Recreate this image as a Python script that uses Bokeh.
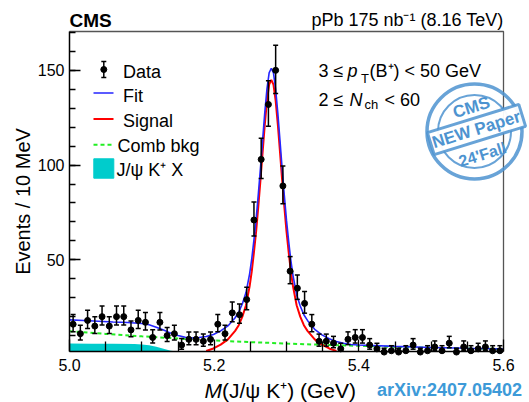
import numpy as np
from bokeh.plotting import figure
from bokeh.models import Label, FixedTicker, SingleIntervalTicker
from bokeh.embed import file_html
from bokeh.resources import INLINE

# ---------------- data ----------------
bin_low = 5.0
bin_width = 0.01
counts = [16, 11, 18, 15, 20, 15, 20, 20, 13, 18,
          17, 9, 17, 10, 11, 5, 8, 8, 7, 8,
          16, 11, 22, 21, 29, 71, 103, 132, 150, 89,
          44, 35, 27, 16, 7, 7, 6, 3, 8, 9,
          9, 5, 3, 1, 2, 1, 2, 5, 1, 2,
          4, 2, 6, 1, 4, 2, 3, 4, 2, 2]

fit_x = [5.000, 5.020, 5.040, 5.060, 5.080, 5.100, 5.110, 5.120, 5.130, 5.140, 5.150, 5.160,
         5.169, 5.179, 5.189, 5.199, 5.209, 5.219, 5.229, 5.234, 5.239, 5.244, 5.249, 5.252,
         5.255, 5.258, 5.261, 5.264, 5.267, 5.270, 5.273, 5.276, 5.279,
         5.282, 5.285, 5.288, 5.291, 5.294, 5.297, 5.300, 5.303, 5.306, 5.309, 5.314, 5.319,
         5.324, 5.329, 5.339, 5.349, 5.359, 5.369, 5.379, 5.389,
         5.400, 5.450, 5.500, 5.550, 5.600]
fit_y = [18.3, 18.0, 17.6, 17.2, 16.9, 16.4, 15.7, 14.4, 12.9, 11.3, 10.0, 9.1,
         8.7, 9.0, 9.5, 10.6, 12.5, 15.1, 19.4, 22.4, 26.8, 32.7, 42.6, 50.6,
         60.5, 71.5, 84.4, 98.4, 113.3, 127.8, 140.2, 148.7, 151.1,
         148.6, 140.0, 127.5, 112.9, 97.9, 83.9, 70.8, 59.8, 49.7, 41.7, 31.6, 25.6,
         21.0, 18.0, 13.3, 10.4, 8.3, 6.9, 6.0, 5.3,
         5.0, 4.3, 3.75, 3.3, 2.95]

sig_x = [5.169, 5.179, 5.189, 5.199, 5.209, 5.219, 5.229, 5.234, 5.239, 5.244, 5.249, 5.252,
         5.255, 5.258, 5.261, 5.264, 5.267, 5.270, 5.273, 5.276, 5.279,
         5.282, 5.285, 5.288, 5.291, 5.294, 5.297, 5.300, 5.303, 5.306, 5.309, 5.314, 5.319,
         5.324, 5.329, 5.339, 5.349, 5.359, 5.369, 5.379, 5.389]
sig_y = [0.6, 1.1, 1.9, 3.2, 5.2, 8.0, 12.5, 15.5, 20.0, 26.0, 36.0, 44.0,
         54.0, 65.0, 78.0, 92.0, 107.0, 121.5, 134.0, 142.5, 145.0,
         142.5, 134.0, 121.5, 107.0, 92.0, 78.0, 65.0, 54.0, 44.0, 36.0, 26.0, 20.0,
         15.5, 12.5, 8.0, 5.2, 3.2, 1.9, 1.1, 0.6]

comb_x = [5.00, 5.05, 5.10, 5.15, 5.20, 5.25, 5.30, 5.35, 5.40, 5.45, 5.50, 5.55, 5.60]
comb_y = [12.3, 10.9, 9.6, 8.45, 7.4, 6.55, 5.8, 5.15, 4.6, 4.05, 3.6, 3.23, 2.9]

jpsi_x = [5.00, 5.03, 5.06, 5.09, 5.10, 5.11, 5.12, 5.13, 5.14, 5.15, 5.16]
jpsi_y = [5.8, 5.75, 5.65, 5.5, 5.3, 4.9, 4.1, 3.1, 2.0, 1.0, 0.0]

x_major = [5.0, 5.2, 5.4, 5.6]
x_minor = [5.05, 5.10, 5.15, 5.25, 5.30, 5.35, 5.45, 5.50, 5.55]

# ---------------- geometry ----------------
XMIN, XMAX = 5.0, 5.6          # axis range
YMIN, YMAX = 1.6, 170.5
W, H = 529, 402
FL, FR, FT, FB = 69, 503, 31, 351   # pixel box of the axes
FONT = "Liberation Sans"
BASE_SHIFT = 4.5                      # baseline correction for labels

kx = (XMAX - XMIN) / (FR - FL)
ky = (YMAX - YMIN) / (FB - FT)

def X(px):
    return XMIN + (px - FL) * kx

def Y(py):
    return YMIN + (FB - py) * ky

# the canvas frame covers the whole picture; axes are pinned at the box edges
p = figure(width=W, height=H, x_range=(X(0), X(W)), y_range=(Y(H), Y(0)),
           output_backend="svg", toolbar_location=None, title_location=None,
           min_border=0, min_border_left=0, min_border_right=0,
           min_border_top=0, min_border_bottom=0)
p.xgrid.visible = False
p.ygrid.visible = False
p.background_fill_color = "white"
p.border_fill_color = "white"
p.outline_line_color = None

xa = p.xaxis[0]
xa.fixed_location = YMIN
xa.bounds = (XMIN, XMAX)
xa.ticker = FixedTicker(ticks=x_major, minor_ticks=x_minor)
xa.major_label_overrides = {5.0: "5.0", 5.2: "5.2", 5.4: "5.4", 5.6: "5.6"}
xa.major_tick_in = 12
xa.major_tick_out = 0
xa.minor_tick_in = 10
xa.minor_tick_out = 0
xa.major_label_standoff = 7
xa.major_label_text_font = FONT
xa.major_label_text_font_size = "16px"
xa.major_label_text_color = "black"
xa.axis_line_color = "black"
xa.axis_line_width = 1.5
xa.major_tick_line_width = 1.3
xa.minor_tick_line_width = 1.3

ya = p.yaxis[0]
ya.fixed_location = XMIN
ya.bounds = (YMIN, YMAX)
ya.ticker = SingleIntervalTicker(interval=50, num_minor_ticks=5)
ya.major_tick_in = 11
ya.major_tick_out = 0
ya.minor_tick_in = 6
ya.minor_tick_out = 0
ya.major_label_standoff = 5
ya.major_label_text_font = FONT
ya.major_label_text_font_size = "16px"
ya.major_label_text_color = "black"
ya.axis_line_color = "black"
ya.axis_line_width = 1.5
ya.major_tick_line_width = 1.3
ya.minor_tick_line_width = 1.3

# top and right edges of the box
p.line([XMIN, XMAX, XMAX], [YMAX, YMAX, YMIN], line_color="#555555", line_width=1.3)

# ---------------- curves ----------------
CYAN = "#00cccc"
BLUE = "#2525ff"
RED = "#ff0000"
GREEN = "#22ee22"

p.varea(x=jpsi_x, y1=[YMIN] * len(jpsi_x), y2=np.maximum(jpsi_y, YMIN), fill_color=CYAN)
p.line(comb_x, comb_y, line_color=GREEN, line_width=2, line_dash="4 3")
sx = np.array(sig_x)
sy = np.array(sig_y)
keep = sy >= YMIN
p.line(sx[keep], sy[keep], line_color=RED, line_width=2)
p.line(fit_x, fit_y, line_color=BLUE, line_width=1.6)

# ---------------- data ----------------
n = np.array(counts, dtype=float)
xc = bin_low + bin_width * (np.arange(len(counts)) + 0.5)
hi = n + 1.0 + np.sqrt(n + 0.75)
lo = np.where(n > 0, n - np.sqrt(np.maximum(n - 0.25, 0)), 0)
lo_vis = np.maximum(lo, YMIN)
p.segment(x0=xc, y0=lo_vis, x1=xc, y1=hi, line_color="black", line_width=1.5)
capped_lo = lo >= YMIN
p.scatter(x=np.concatenate([xc[capped_lo], xc]), y=np.concatenate([lo[capped_lo], hi]),
          marker="dash", size=5, line_color="black", line_width=1.5)
p.scatter(x=xc, y=np.maximum(n, YMIN - 0.3), marker="circle", size=6,
          fill_color="black", line_color="black")

# ---------------- text helper ----------------
def lab(px, py, text, size="18px", style="normal", align="left", color="black", angle=0.0,
        baseline="alphabetic", **kw):
    if baseline == "alphabetic":
        px = px - BASE_SHIFT * np.sin(angle)
        py = py - BASE_SHIFT * np.cos(angle)
    l = Label(x=X(px), y=Y(py), text=text, text_font=FONT, text_font_size=size,
              text_font_style=style, text_align=align, text_color=color, angle=angle,
              text_baseline=baseline, **kw)
    p.add_layout(l)
    return l

# ---------------- legend (manual) ----------------
p.segment(x0=[X(103.3)], y0=[Y(61)], x1=[X(103.3)], y1=[Y(77)], line_color="black", line_width=1.5)
p.scatter(x=[X(103.3), X(103.3)], y=[Y(61), Y(77)], marker="dash", size=5, line_color="black", line_width=1.5)
p.scatter(x=[X(103.3)], y=[Y(69)], marker="circle", size=6, fill_color="black", line_color="black")
lab(122.5, 75.5, "Data")
p.line([X(93), X(113)], [Y(92.5), Y(92.5)], line_color=BLUE, line_width=1.6)
lab(122.5, 99.5, "Fit")
p.line([X(93), X(113)], [Y(118.5), Y(118.5)], line_color=RED, line_width=2)
lab(122.5, 124.5, "Signal")
p.line([X(93), X(113)], [Y(144.3), Y(144.3)], line_color=GREEN, line_width=2, line_dash="4 3")
lab(117, 150, "Comb bkg")
p.quad(left=[X(93.3)], right=[X(113.3)], bottom=[Y(177.7)], top=[Y(158.3)], fill_color=CYAN, line_color=CYAN)
lab(116, 174, "J/ψ K⁺ X")

# ---------------- header texts ----------------
lab(69, 24.3, "CMS", size="19px", style="bold")
lab(503, 24.3, "pPb 175 nb⁻¹ (8.16 TeV)", size="18px", align="right")

# selection text
lab(318, 75, "3 ≤ ")
lab(347, 75, "p", style="italic")
lab(360.5, 82, "T", size="13px")
lab(369, 75, "(B⁺) < 50 GeV")
lab(318, 103.5, "2 ≤ ")
lab(349, 103.5, "N", style="italic")
lab(364, 108.5, "ch", size="13px")
lab(384, 103.5, "< 60")

# axis titles
lab(204, 394, "M", size="21px", style="italic")
lab(221.5, 394, "(J/ψ K⁺) (GeV)", size="21px")
lab(27, 201, "Events / 10 MeV", size="20px", align="center", angle=np.pi / 2)
lab(376.5, 394, "arXiv:2407.05402", size="18px", style="bold", color="#3d9ad8")

# ---------------- stamp ----------------
STAMP = "#4d93d0"
cx, cy = 474, 131
p.scatter(x=[X(cx)], y=[Y(cy)], marker="circle", size=95, fill_alpha=0,
          line_color=STAMP, line_width=3.5, line_alpha=0.85)
p.scatter(x=[X(cx)], y=[Y(cy)], marker="circle", size=73, fill_alpha=0,
          line_color=STAMP, line_width=2, line_alpha=0.85)
ang = 0.30
lab(471, 107, "CMS", size="17px", style="bold", align="center", baseline="middle",
    color=STAMP, angle=ang)
lab(476, 129, "NEW Paper", size="17px", style="bold", align="center", baseline="middle",
    color=STAMP, angle=ang, background_fill_color="white", background_fill_alpha=0.95,
    border_line_color=STAMP, border_line_width=3, border_line_alpha=0.85, padding=2)
lab(482, 154, "24'Fall", size="16px", style="bold", align="center", baseline="middle",
    color=STAMP, angle=ang)

open("out.html", "w").write(file_html(p, INLINE))
